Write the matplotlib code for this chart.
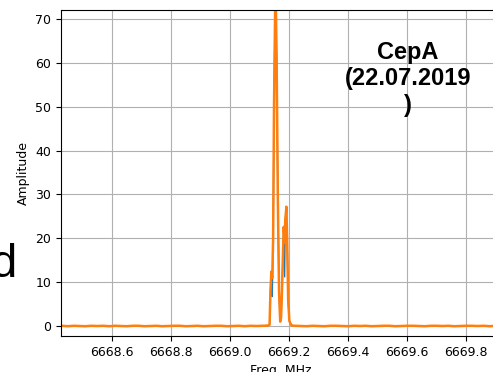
import numpy as np
import matplotlib
matplotlib.use('Agg')
import matplotlib.pyplot as plt
from matplotlib import font_manager

# baseline channels left and right of the line
freq_left = np.linspace(6668.43, 6669.11, 35)
amp_left = [0.05, -0.05, 0.05, 0.0, -0.05, 0.05, 0.0, 0.05, -0.05, 0.05,
            0.0, -0.05, 0.05, 0.05, -0.05, 0.0, 0.05, -0.05, 0.0, 0.05,
            0.05, -0.05, 0.0, 0.05, -0.05, 0.0, 0.05, 0.05, -0.05, 0.0,
            0.05, -0.05, 0.05, 0.0, 0.05]
freq_right = np.linspace(6669.22, 6669.92, 36)
amp_right = [0.05, 0.0, -0.05, 0.05, 0.0, -0.05, 0.05, 0.05, 0.0, -0.05,
             0.05, 0.0, 0.05, -0.05, 0.0, 0.05, 0.05, -0.05, 0.0, 0.05,
             0.05, 0.0, -0.05, 0.05, 0.05, 0.0, 0.05, -0.05, 0.0, 0.05,
             0.05, 0.0, 0.05, -0.05, 0.05, 0.0]

# maser line region
freq_peak = [6669.129, 6669.134, 6669.137, 6669.140, 6669.143, 6669.146,
             6669.149, 6669.154, 6669.158, 6669.162, 6669.166, 6669.170,
             6669.173, 6669.176, 6669.180, 6669.182, 6669.185, 6669.187,
             6669.191, 6669.194, 6669.197, 6669.201, 6669.205, 6669.209]
amp_peak_1 = [0.1, 0.3, 8.0, 12.4, 6.7, 18.0, 50.0, 79.0, 60.0, 29.0, 8.0, 1.0,
              2.0, 8.0, 18.0, 22.6, 11.2, 24.0, 27.2, 18.0, 6.0, 1.2, 0.5, 0.1]
amp_peak_2 = [0.1, 0.3, 8.0, 12.4, 11.0, 20.0, 50.0, 79.0, 60.0, 29.0, 8.0, 1.0,
              2.0, 8.0, 18.0, 22.6, 19.0, 24.0, 27.2, 18.0, 6.0, 1.2, 0.5, 0.1]

freq = np.concatenate([freq_left, freq_peak, freq_right])
amp1 = np.concatenate([amp_left, amp_peak_1, amp_right])
amp2 = np.concatenate([amp_left, amp_peak_2, amp_right])

x_ticks = [6668.6, 6668.8, 6669.0, 6669.2, 6669.4, 6669.6, 6669.8]
y_ticks = [0, 10, 20, 30, 40, 50, 60, 70]

# Liberation Sans (not the Narrow one)
def find_font(name):
    for f in font_manager.findSystemFonts():
        if f.endswith(name):
            return font_manager.FontProperties(fname=f)
    return font_manager.FontProperties(family='Liberation Sans')

fp_bold = find_font('LiberationSans-Bold.ttf')
fp_reg = find_font('LiberationSans-Regular.ttf')

fig = plt.figure(figsize=(4.93, 3.72), dpi=100)
ax = fig.add_axes([61 / 493, 36 / 372, 439 / 493, 326 / 372])
ax.plot(freq, amp1, color='C0', lw=1.0)
ax.plot(freq, amp2, color='C1', lw=1.8)
ax.set_xlim(6668.427, 6669.915)
ax.set_ylim(-2.28, 72.05)
ax.set_xticks(x_ticks)
ax.set_xticklabels(['%.1f' % t for t in x_ticks])
ax.set_yticks(y_ticks)
ax.tick_params(labelsize=9)
ax.grid(True)
ax.set_xlabel('Freq, MHz', fontsize=9)
ax.set_ylabel('Amplitude', fontsize=9)

fp_bold.set_size(17)
fp_reg.set_size(34)
fig.text(408 / 493, (372 - 79) / 372, 'CepA\n(22.07.2019\n)', ha='center', va='center',
         fontproperties=fp_bold)
fig.text(17 / 493, (372 - 277) / 372, 'd', ha='right', va='baseline',
         fontproperties=fp_reg)

fig.savefig('out.png', dpi=100)
